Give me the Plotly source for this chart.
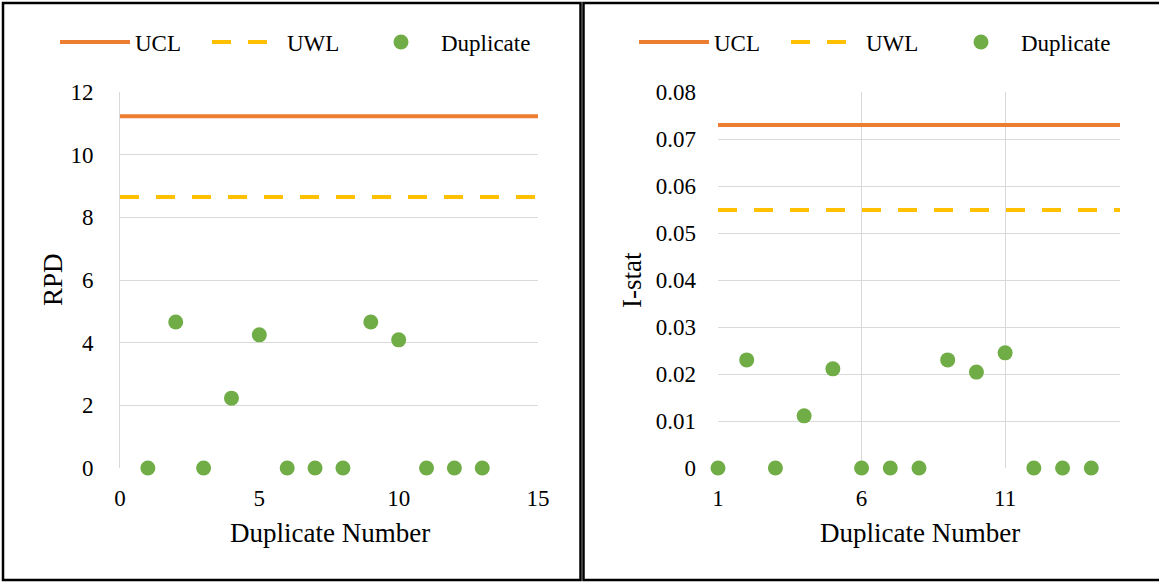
import plotly.graph_objects as go

# ---- data ----
dup_left = [1, 2, 3, 4, 5, 6, 7, 8, 9, 10, 11, 12, 13]
rpd = [0, 4.66, 0, 2.23, 4.25, 0, 0, 0, 4.66, 4.09, 0, 0, 0]
rpd_ucl = 11.23
rpd_uwl = 8.65
left_x_span = [0, 15]

dup_right = [1, 2, 3, 4, 5, 6, 7, 8, 9, 10, 11, 12, 13, 14]
istat = [0, 0.023, 0, 0.0111, 0.0211, 0, 0, 0, 0.023, 0.0204, 0.0245, 0, 0, 0]
istat_ucl = 0.073
istat_uwl = 0.0549
right_x_span = [1, 15]

left_yticks = [0, 2, 4, 6, 8, 10, 12]
right_yticks = [0, 0.01, 0.02, 0.03, 0.04, 0.05, 0.06, 0.07, 0.08]
right_yticklabels = ["0", "0.01", "0.02", "0.03", "0.04", "0.05", "0.06", "0.07", "0.08"]

# ---- styling ----
W, H = 1159, 582
FONT = "Liberation Serif"
ORANGE = "#ED7D31"
GOLD = "#FFC000"
GREEN = "#70AD47"
GRID = "#D9D9D9"


def px_x(p):
    return p / W


def px_y(p):
    return 1 - p / H


fig = go.Figure()

# Left panel
fig.add_trace(go.Scatter(x=left_x_span, y=[rpd_ucl] * 2, mode="lines", name="UCL",
                         line=dict(color=ORANGE, width=4), xaxis="x", yaxis="y",
                         legend="legend", cliponaxis=False))
fig.add_trace(go.Scatter(x=left_x_span, y=[rpd_uwl] * 2, mode="lines", name="UWL",
                         line=dict(color=GOLD, width=4, dash="19px,17px"), xaxis="x", yaxis="y",
                         legend="legend", cliponaxis=False))
fig.add_trace(go.Scatter(x=dup_left, y=rpd, mode="markers", name="Duplicate",
                         marker=dict(color=GREEN, size=15), xaxis="x", yaxis="y",
                         legend="legend3", cliponaxis=False))

# Right panel
fig.add_trace(go.Scatter(x=right_x_span, y=[istat_ucl] * 2, mode="lines", name="UCL",
                         line=dict(color=ORANGE, width=4), xaxis="x2", yaxis="y2",
                         legend="legend2", cliponaxis=False))
fig.add_trace(go.Scatter(x=right_x_span, y=[istat_uwl] * 2, mode="lines", name="UWL",
                         line=dict(color=GOLD, width=4, dash="19px,17px"), xaxis="x2", yaxis="y2",
                         legend="legend2", cliponaxis=False))
fig.add_trace(go.Scatter(x=dup_right, y=istat, mode="markers", name="Duplicate",
                         marker=dict(color=GREEN, size=15), xaxis="x2", yaxis="y2",
                         legend="legend4", cliponaxis=False))

ydom = [px_y(468), px_y(92)]
tickfont = dict(family=FONT, size=23, color="#000")
legfont = dict(family=FONT, size=23, color="#000")


def leg(xpix, ew):
    return dict(orientation="h", x=px_x(xpix), xanchor="left", y=px_y(42), yanchor="middle",
                font=legfont, bgcolor="rgba(0,0,0,0)", itemwidth=70,
                entrywidth=ew, entrywidthmode="pixels")


fig.update_layout(
    width=W, height=H, autosize=False,
    margin=dict(l=0, r=0, t=0, b=0, pad=0),
    paper_bgcolor="white", plot_bgcolor="white",
    font=dict(family=FONT, color="#000"),
    xaxis=dict(domain=[px_x(120), px_x(538)], range=[0, 15], tick0=0, dtick=5,
               showgrid=False, zeroline=False, showline=False, ticks="", automargin=False,
               tickfont=tickfont, ticklabelstandoff=14, anchor="y"),
    yaxis=dict(domain=ydom, range=[0, 12], tickvals=left_yticks,
               showgrid=True, gridcolor=GRID, gridwidth=1, zeroline=False,
               showline=True, linecolor=GRID, linewidth=1, ticks="", automargin=False,
               tickfont=tickfont, ticklabelstandoff=21, anchor="x"),
    xaxis2=dict(domain=[px_x(718), px_x(1120)], range=[1, 15], tick0=1, dtick=5,
                showgrid=True, gridcolor=GRID, gridwidth=1, zeroline=False, showline=False,
                ticks="", automargin=False,
                tickfont=tickfont, ticklabelstandoff=14, anchor="y2"),
    yaxis2=dict(domain=ydom, range=[0, 0.08], tickvals=right_yticks, ticktext=right_yticklabels,
                showgrid=True, gridcolor=GRID, gridwidth=1, zeroline=False, showline=False,
                ticks="", automargin=False,
                tickfont=tickfont, ticklabelstandoff=21, anchor="x2"),
    legend=leg(55, 67),
    legend2=leg(634, 67),
    legend3=leg(361, 0),
    legend4=leg(941, 0),
    showlegend=True,
    annotations=[
        dict(text="Duplicate Number", x=px_x(330), y=px_y(533), xref="paper", yref="paper",
             showarrow=False, font=dict(family=FONT, size=27, color="#000"),
             xanchor="center", yanchor="middle"),
        dict(text="Duplicate Number", x=px_x(920), y=px_y(533), xref="paper", yref="paper",
             showarrow=False, font=dict(family=FONT, size=27, color="#000"),
             xanchor="center", yanchor="middle"),
        dict(text="RPD", x=px_x(53), y=px_y(280), xref="paper", yref="paper", textangle=-90,
             showarrow=False, font=dict(family=FONT, size=27, color="#000"),
             xanchor="center", yanchor="middle"),
        dict(text="I-stat", x=px_x(632), y=px_y(280), xref="paper", yref="paper", textangle=-90,
             showarrow=False, font=dict(family=FONT, size=27, color="#000"),
             xanchor="center", yanchor="middle"),
    ],
    shapes=[
        dict(type="rect", xref="paper", yref="paper", x0=px_x(3), x1=px_x(580.5),
             y0=px_y(580), y1=px_y(3), line=dict(color="black", width=2.5)),
        dict(type="rect", xref="paper", yref="paper", x0=px_x(583.5), x1=px_x(1162),
             y0=px_y(580), y1=px_y(3), line=dict(color="black", width=2.5)),
    ],
)

fig.write_html(
    "out.html",
    config={"displayModeBar": False},
    post_script="document.body.style.margin='0';document.body.style.overflow='hidden';",
)
